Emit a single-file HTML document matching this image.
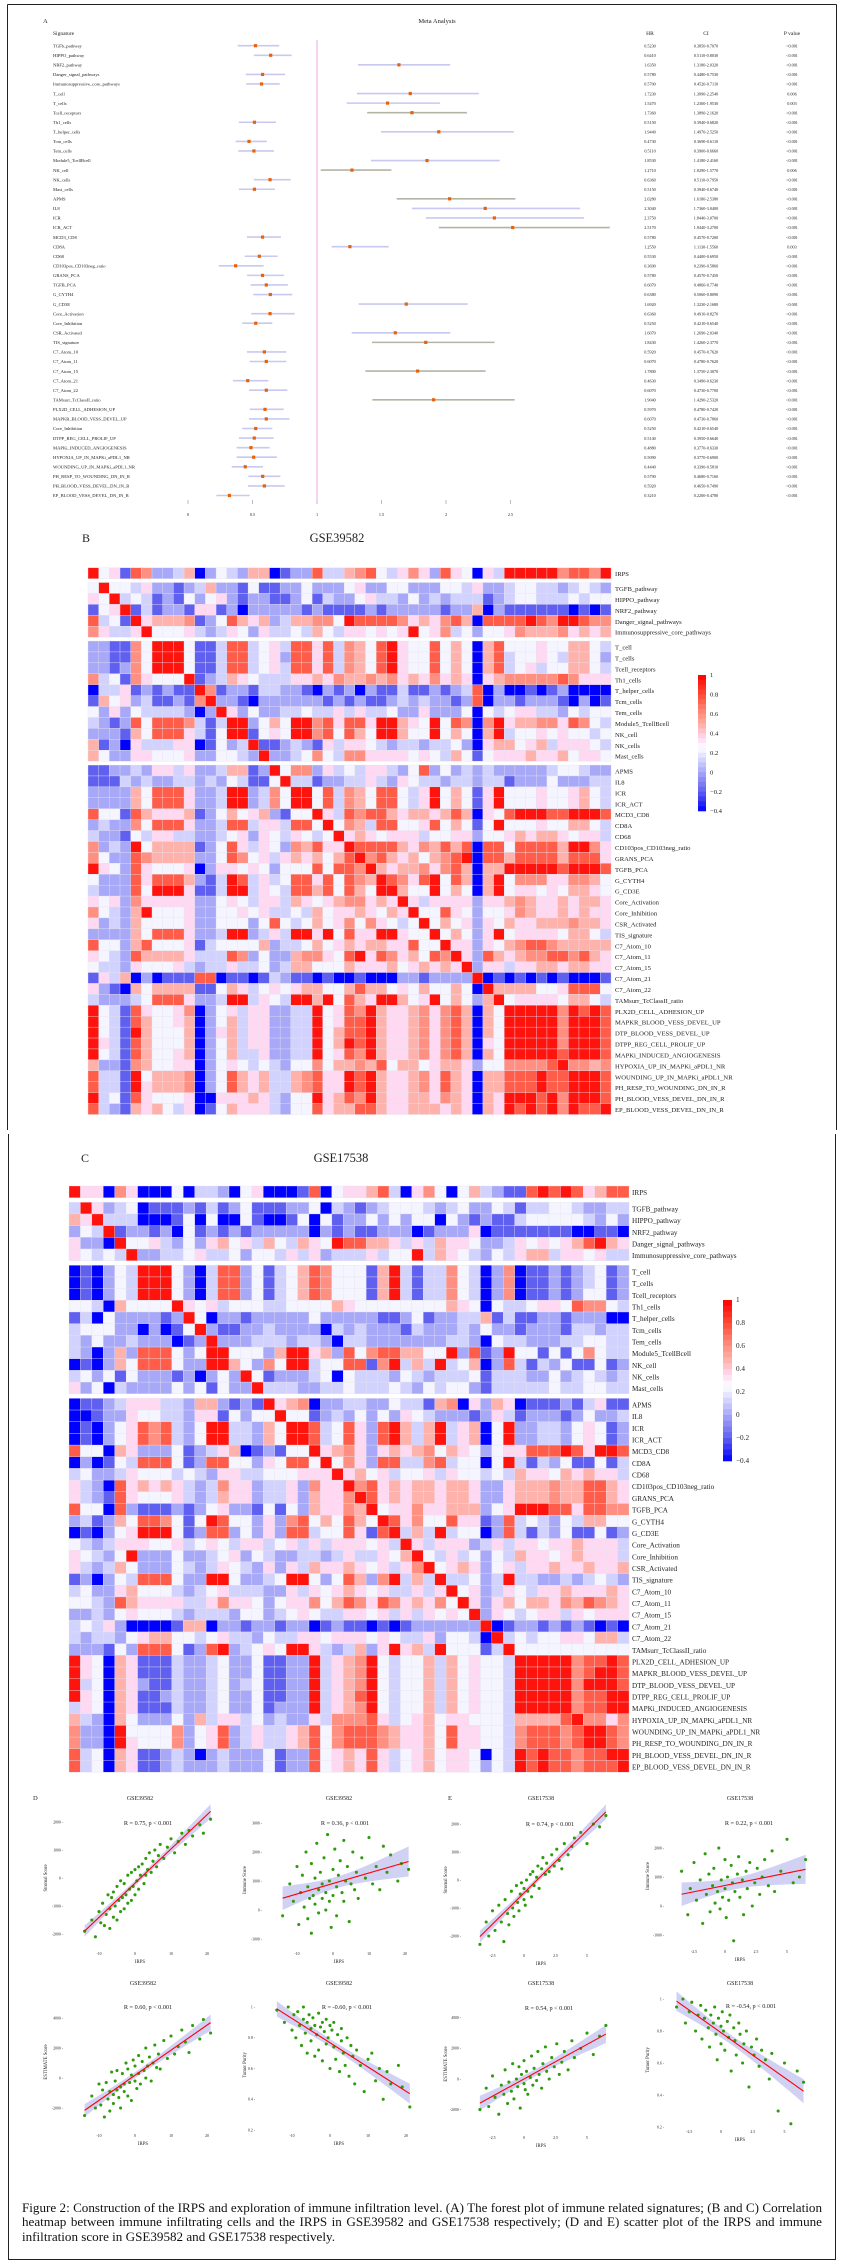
<!DOCTYPE html>
<html><head><meta charset="utf-8"><title>Figure 2</title>
<style>
html,body{margin:0;padding:0;background:#fff;}
#wrap{position:relative;width:841px;height:2261px;overflow:hidden;}
svg{position:absolute;left:0;top:0;}
svg text{font-family:"Liberation Serif",serif;fill:#222;}
#caption{position:absolute;left:22px;top:2201px;width:800px;font-family:"Liberation Serif",serif;font-size:13.1px;line-height:14.4px;text-align:justify;color:#111;}
</style></head>
<body>
<div id="wrap">
<svg id="fig" width="841" height="2261" viewBox="0 0 841 2261"></svg>
<div id="caption">Figure 2: Construction of the IRPS and exploration of immune infiltration level. (A) The forest plot of immune related signatures; (B and C) Correlation heatmap between immune infiltrating cells and the IRPS in GSE39582 and GSE17538 respectively; (D and E) scatter plot of the IRPS and immune infiltration score in GSE39582 and GSE17538 respectively.</div>
</div>
<script>
// ===== Forest plot data =====
const fSignatures = ["TGFb_pathway","HIPPO_pathway","NRF2_pathway","Danger_signal_pathways","Immunosuppressive_core_pathways","T_cell","T_cells","Tcell_receptors","Th1_cells","T_helper_cells","Tcm_cells","Tem_cells","Module5_TcellBcell","NK_cell","NK_cells","Mast_cells","APMS","IL8","ICR","ICR_ACT","MCD3_CD8","CD8A","CD68","CD103pos_CD103neg_ratio","GRANS_PCA","TGFB_PCA","G_CYTH4","G_CD3E","Core_Activation","Core_Inhibition","CSR_Activated","TIS_signature","C7_Atom_10","C7_Atom_11","C7_Atom_15","C7_Atom_21","C7_Atom_22","TAMsurr_TcClassII_ratio","PLX2D_CELL_ADHESION_UP","MAPKR_BLOOD_VESS_DEVEL_UP","Core_Inhibition","DTPP_REG_CELL_PROLIF_UP","MAPKi_INDUCED_ANGIOGENESIS","HYPOXIA_UP_IN_MAPKi_aPDL1_NR","WOUNDING_UP_IN_MAPKi_aPDL1_NR","PH_RESP_TO_WOUNDING_DN_IN_R","PH_BLOOD_VESS_DEVEL_DN_IN_R","EP_BLOOD_VESS_DEVEL_DN_IN_R"];
const fHR = [0.523,0.641,1.635,0.578,0.570,1.723,1.547,1.736,0.515,1.944,0.473,0.511,1.853,1.271,0.636,0.515,2.028,2.304,2.375,2.517,0.578,1.255,0.553,0.369,0.578,0.607,0.638,1.692,0.636,0.525,1.607,1.843,0.592,0.607,1.780,0.463,0.607,1.904,0.597,0.607,0.525,0.514,0.488,0.509,0.444,0.579,0.592,0.321];
const fLow = [0.385,0.511,1.318,0.448,0.452,1.309,1.230,1.389,0.394,1.497,0.369,0.390,1.418,1.029,0.511,0.394,1.618,1.736,1.844,1.944,0.457,1.113,0.440,0.239,0.457,0.486,0.506,1.323,0.491,0.421,1.269,1.426,0.457,0.478,1.375,0.349,0.473,1.429,0.478,0.473,0.421,0.395,0.377,0.377,0.339,0.468,0.465,0.220];
const fHigh = [0.707,0.803,2.032,0.753,0.711,2.254,1.953,2.162,0.682,2.525,0.611,0.666,2.416,1.577,0.795,0.674,2.538,3.040,3.070,3.270,0.720,1.556,0.695,0.586,0.745,0.774,0.809,2.168,0.827,0.654,2.034,2.377,0.762,0.762,2.307,0.623,0.770,2.532,0.742,0.786,0.654,0.664,0.633,0.690,0.581,0.716,0.749,0.478];
const fP = ["<0.001","<0.001","<0.001","<0.001","<0.001","0.006","0.003","<0.001","<0.001","<0.001","<0.001","<0.001","<0.001","0.006","<0.001","<0.001","<0.001","<0.001","<0.001","<0.001","<0.001","0.003","<0.001","<0.001","<0.001","<0.001","<0.001","<0.001","<0.001","<0.001","<0.001","<0.001","<0.001","<0.001","<0.001","<0.001","<0.001","<0.001","<0.001","<0.001","<0.001","<0.001","<0.001","<0.001","<0.001","<0.001","<0.001","<0.001"];
const fTicks = [0,0.5,1,1.5,2,2.5];
const fTickLabels = ["0","0.5","1","1.5","2","2.5"];

// ===== Heatmap data (letter-coded correlations) =====
const heatCodes = {R:0.95,r:0.75,o:0.6,p:0.48,q:0.35,w:0.22,l:0.12,m:0,b:-0.2,B:-0.4};
const heatLabels = ["IRPS","TGFB_pathway","HIPPO_pathway","NRF2_pathway","Danger_signal_pathways","Immunosuppressive_core_pathways","T_cell","T_cells","Tcell_receptors","Th1_cells","T_helper_cells","Tcm_cells","Tem_cells","Module5_TcellBcell","NK_cell","NK_cells","Mast_cells","APMS","IL8","ICR","ICR_ACT","MCD3_CD8","CD8A","CD68","CD103pos_CD103neg_ratio","GRANS_PCA","TGFB_PCA","G_CYTH4","G_CD3E","Core_Activation","Core_Inhibition","CSR_Activated","TIS_signature","C7_Atom_10","C7_Atom_11","C7_Atom_15","C7_Atom_21","C7_Atom_22","TAMsurr_TcClassII_ratio","PLX2D_CELL_ADHESION_UP","MAPKR_BLOOD_VESS_DEVEL_UP","DTP_BLOOD_VESS_DEVEL_UP","DTPP_REG_CELL_PROLIF_UP","MAPKi_INDUCED_ANGIOGENESIS","HYPOXIA_UP_IN_MAPKi_aPDL1_NR","WOUNDING_UP_IN_MAPKi_aPDL1_NR","PH_RESP_TO_WOUNDING_DN_IN_R","PH_BLOOD_VESS_DEVEL_DN_IN_R","EP_BLOOD_VESS_DEVEL_DN_IN_R"];
const heatB = [
"RwqbrommlpBmwlmppBbmmrllporwlqoqmrqwBqlRRRRRorroR",
"wRwwlqmmbmlpmmbwbbmmwmmmwqmmwwmmmwwlqmmlwwllmlwlm",
"qwRlwlbmbwmwqmbmmbbmwblmmwqllmwmlmlllbmlwwlllwlww",
"bwqRblbmmbqqbmBmmmmmbmbbbbmbmmmmmbmmpBmbbbbbbBbBb",
"rlwbRqpppobmwrpqpmlppoowRrrrroqpqorpBrrrrRroRRroo",
"oqllqRwwwqlmlqwmqllwlpwlqqwqwqRwqolwmwwqopppoqpqp",
"mmbbowRRRwbblrrlwqlrrqrlopwrRqwwrwpwBprwwwqwwppwl",
"mmbbowRRRwbblrrlwqmrrqrlopwrRqwwrwpwBprlwwqwlppwm",
"mmbmowRRRwbblrrlwqlrrqrlopwrRqwwrwpwBprlwqlwwppwl",
"olwboqwwwRbmlpqwlllqqpqoppopoqpqoqpqBqpoooooroqqq",
"BllqbmbmbbRobmmbllmmbBmbmBmbblbbmbmlrBmBBbBbmBBBB",
"bpwqmlbbmboRmmbBmmmmmmbmbmbbmlmlmmbmrBmmbmmmbBmBb",
"wmqmwllllmBmRqmwmmllwllqlqllwmmqmmmwBwlwqqllmwlww",
"lmbmrwrrrolblRRmwpwRRorqrrqRRpqwRwroBoRqppooqrowl",
"mmmbpwrrrqlbwRRbwqwRRorwrpwRRpwwRwpwBpRlwwqwqwwlw",
"pbmBqlllqqBbwmlRbbmlmbqlqqwlmllmllwmBqppwqplqqqwl",
"pwmmqqwwwqmmwwlmRmmlwowlooqqqqwqwlpwbwqqqpqqpwqqw",
"bbmmlmqqlqmmlppbmRwoomqlwlqqlmwrmwmlmlmmmmmlwwlmm",
"bbblmlmmllmlmwlbbwRllbmmllqlmqwllmllmllbmmmwmmmll",
"mmmmpwrrrqmmlRRmlowRRwrlopwrrwlqRwpwbqRwwwqwwqpwl",
"mmmmpwrrrqmmlRRmlowRRwrlopwrrwlqRwpwbqRwwwqwwqpwl",
"rwwbrpqqqpbmwpwqpmbwwRqlrorrpqppqprpBqwrRRRrrRRRr",
"mlmmowrrrqmmlrrlqqlrrwRwoplrrwwqrwpwbwRwwwqwwppwl",
"lmmbwlqqllmmlwqmqwlqwlwRqpqwqqqlwwqqmwwqpqppqwqql",
"omlmRwppppbmwrqlqwmoprqqRrrrrpqoprprBrrwrrrrpRRoq",
"owmmroppppmmwrowqlqpqpwprRorpqpwporRBrrprrrrprrrq",
"RqwmrqwwwqBmqqwqwmwwwrwrroRpqppoqorpBppRRRRRrRRRr",
"wmmmrqrrrpmblRrlqlwrrqrwropRroqrRwrpBpRwoooqqoopw",
"lmmmrwRRRqbblRRlqwlrrprwrpwRRpwwRwpwBpRwqqwqwppqw",
"qwqmoqqqqqmmwqwlqqlpqwqpooqpqRqlqqqqmqqpopqqpqppq",
"owlmpRwwwqmmwwqwqllwlpwqqpqwpqRwwrqwmwwqopqqpqpqq",
"qmlmpwwwwqmmwwwmwrwlwpwqowoqwlwRwpwqmqwpqqpppoppq",
"mmmmpwrrrqmmlRRmlqlRRqRwrqqRRqwwRwpwmqRwqqqqwppwl",
"rwwmprwwwqblwwwwpmllwpwqpqppqqrwwRqqmqwporroppppp",
"qwlmrppppqlllromwmmpooqwrRqroqpwroRqmrpqpoorrorpq",
"wllmqwwwqlmllqllwmlppwwwpqqqpwqpqpqRmqqlqqppqppqq",
"bqlpBmBbbbrrBbbBblmbbBbBBbBBBmmbmmmmRBbBbBbBbBBBb",
"qmbBpwppppbbwpqlwqwqppwwprppwqwpwwpwBRppppwwqrrrw",
"lmmmlwrrrqmmlRRlqwlRRpRwrpqRRpwqRwpwmpRwqqqqwppwl",
"RwlbrqwwqoBmwqlqqmmllRwqroRpqqpoqorpBpwRRRRRoRrRr",
"RwlbrpwwqpBmwplqqmmllRwqrrRpqqpoqorpBpwRRRRRoRRRr",
"RwlbRpwwwpBmqplqqmmllRwprrRpqqpoqorpBpwRRRRRoRRRr",
"RqlbrpwwwpBmwplqqmmllRwpRrRpqqpoqorpBqwRRRRRoRRRr",
"RwlbrpwwqpBmwpllqmmllRwqroRpqqpoqorpBpwRRRRRrRRRr",
"pmmbopwwqqBmwqwlwlmwwowppoprwppwqppqmwwoooorRoopo",
"rllbRwpppoBmwrpqpllporqqRrRpqqpoqrpqBpprrrRrrRRRr",
"rllbRqpppoBmwrpqpllporqqRrRpqqpoqrpqBpprrrRrrRRRr",
"RlwbrqwwwqBBqqqpqlmwwRqproRpqqppqopqBpqRRRrRoRRRr",
"rlmbpqpwlqBbwpqqqlmwwrqpprrpqqpppqpqBpqRrRrRoRrrR"];
const heatC = [
"RqqBoqBBBwBllmBwqBBBbrBwqqprlBqowBwplmbbrRrRrqprr",
"lRqmlwBbbbmblbmwbbbmmwBlmbmlwwwlmlwmmwlbllwwlmmll",
"pqRlllBBBbwBwBBwbBBbwBwbmmwmwmwwBwmbmbblwwwwwlmwm",
"mwlRbmmbmBwbmbmbmmmmmBmbmbbmmmBbmmmqBbbbbbbbBBbbB",
"qmmBRwwqlmwmqpwqlpwlpqwRrrppqlqlpqqwmmlqwqwqprRpq",
"qwlwlRmmllwqllwmwwlqlqmlllqlwwRlpqwlmwlqpplqqwqll",
"BbBmwlRRRwmBlrrmwblwprowwwbpRlbllowlBmoBbbmbmlwbm",
"BbBmwlRRRwmBlrrmwblwprowwwbpRlbllowlBmoBbbmbmlwbm",
"BbBmwlRRRwmBlrrmwblwprowwwbpRlbllowlBmoBbbmbmwwbm",
"wwlBpwwwwRqwqlwwwllwwwwpqwwwwwwwwpqwBwllwqqwroowl",
"blBwmmmmbmRwBmmbmmmmmwmmmmmbbmwbmmllpblbbmmbmmmBB",
"lwwwmmBmBbwRmbbmmlmmmmBlmlmmmblmmmlmwmmbmmmbllmll",
"lmwmmlmmmBbmRmmmlllmllmBllmmmmmmmllmBwllmmmllwwll",
"lmBmpmrrrwmwRRwwwmpRRqpmrworrppwwRmrbmRwwbwbwowll",
"BbBmpwrrrwmmRRpwmowRRlwwrrboRlplRlwpBmrlblmwbbwbm",
"lwmwbwmmmbmBmwmRwbmmmlwBwlllmwlmlllwblllmmwmlwlml",
"qmwBlmmmmwmwbwmmRlllmmllwlllwlmwlwwmblllllwllwwll",
"BbbmlqqqllmppmbmbRqpoBmmllmmwllbpoBqmpqBbbbmblqbb",
"BBbmmqwwllmqqbwmwwRwwbmlmwmwmqwlmmmbmqlbmmmbmwmml",
"BbBmwqrorlmwRRllmpwRRrlwrqmrRplpRlqpBwRmmllmwqwbm",
"BbBmwqrorlmwRRllmpwRRrlwrqmrRplpRlqpBwRmmllmwqwbm",
"rwwBpqmmmwbmlqpBbmbwwRqpoqmqpqpowpqwmwqqrrrRrqRRr",
"BmBbwlrrrwbmrrwwmqwrrwRwoqmrrllorlwwBwRlblmwbbwbl",
"lwmmlqwwwlwlmqqllwwwqqqRqpwqlwwqlqwwlwlpqqwpqpqql",
"qlmBrqpqpqlmloqqmllqmoqqRorqpqppqppqmmqpppopprrpq",
"qlmbrqwwwqlmlpqqmllqmpqqoRrqpqppqppqmmqpppopprrpq",
"rwwBrmbbbmbmwqmmbwbwmpqqopRwqqoqqpppmwqRRRrrqrroo",
"mlbmpwrrowbwRrwwmqmorwpwrpwRrqowwrqqbmrlwlmwlppww",
"BbBmwqRRRwbmrrmwmqmrrlwwrqbrRlplRlwwBmrlblmwbbwbm",
"wlmlqqqwwqlwqwlqqlwqlqlqqqwqlRqlqqqmlqlqqwqqpqqql",
"qwlmwRmmmwmmlwqmwlmmllmlqllqwpRwlqlwmwlpqqwqpqqql",
"qlmlpwmmmwlmlqwlmqmqlpqqpqwqlqoRwqpqmwqlqqpqqpqqp",
"bmBmwlrrrwmmRRwmmlwRRwmwrpmoRlplRllwmlRllmmlmlwlm",
"lwmmqpwwwlmlwqlllmmqlqwqpqwqllqlqRwqmlqwlqqpqqqpq",
"wwlmrpqqqqllqoqqwmwqqowproqroqpqowRqmqpwppqopropq",
"mmlmwqwwwlmlllmwwmlwqwllqqwqlqlqwqwRmqwlwqqlqwqqq",
"lwlqmBBBBbppBmmbmmbmmBbmbbBbBbmmmmmmRBbmmbmbmbBbB",
"lmllmwqppwwlwqllmwllqqwqqqwqwllqmwwlBRlwlwwqqwppl",
"mmmbwmrrrwbmrRmlwqwRRqlmlpmqRqplRwwwblRwwwwwwwwww",
"RqwBpqbbblmmlwmmwbbmmRlqpoRwlwwplpwqwwlRRRRRorrRr",
"RqwBpqbbblmmlwmmwbbmmRlqpoRwlwwplpwqwwlRRRRRorRRr",
"RlwBpqmbblmmlwmlwbbmmRlqpoRwlwwplpwqwwlRRRRRoRRRr",
"RqwBpqbbmlmmlwmmwbbmmRlqprRwlwwplpwqwwlRRRRRorrRR",
"lqwBpqbbblmmlwmmwbmmmRlqpoRwlwwplpwqwwlRRRRRorrRR",
"plmBpwmmmwmplqqlwmlmmqlooorqlwqpwqqwwwlpppprRooqo",
"ommBRwwwwomwqrmlqllqprworrropqqpwrqqwwlorrrorRRro",
"ommBRqwwwomwqrmlqllqprworrropqqpwrqqwwlorrrorRRro",
"rlwBpqbbmlmBmlmmmwbmmrwqpqrqlwqpwqqwBwlRrRrrorrRR",
"rlwBpqbbmlmmmlmmmwbmmrwqpqrqlwqpwqqwmwlRrRrrorrrR"];
const cbTicks = [1,0.8,0.6,0.4,0.2,0,-0.2,-0.4];

// ===== Scatter data =====
const irps39 = [-14,-12,-11,-10,-9.5,-9,-8.5,-8,-7.5,-7,-7,-6.5,-6,-6,-5.5,-5,-5,-4.5,-4,-4,-3.5,-3,-3,-2.5,-2,-2,-1.5,-1,-1,-0.5,0,0,0.5,1,1,1.5,2,2.5,3,3,3.5,4,4.5,5,5.5,6,6.5,7,8,9,10,11,12,13,14,15,16,18,19,21];
const stromal39 = [-1900,-1500,-2100,-1200,-1600,-900,-1700,-1300,-600,-1100,-1800,-700,-1400,-500,-1000,-1500,-300,-800,-1200,-100,-700,-1100,-200,-600,-900,100,-400,-800,200,-300,-600,300,-100,400,-400,100,500,-200,700,100,300,900,200,600,1000,400,800,1200,700,1100,1400,900,1300,1600,1200,1700,1500,1900,1600,2100];
const immune39 = [-200,900,300,1500,-500,600,1200,100,2000,-300,800,400,1600,-800,500,1100,200,2300,700,-100,1300,400,900,1800,0,600,2600,300,1000,-600,1400,500,2100,800,-200,1200,1700,600,2400,300,1000,1500,-400,900,2000,700,1300,400,1800,1100,2500,900,1500,700,2200,1300,1900,1000,1600,1400];
const estimate39 = [-2500,-1200,-2000,-400,-1800,-800,-2600,-300,-1400,-900,-2200,400,-1100,-1700,-200,-800,500,-1300,-600,-2000,300,-900,-400,1000,-1200,600,-300,200,-1500,1200,-200,800,-700,1500,300,-400,1100,500,2000,0,800,1400,-200,1000,2200,700,1600,600,2500,1300,2800,1600,2100,3200,2400,1700,3500,2600,3900,3000];
const purity39 = [0.98,0.9,1.0,0.85,0.95,0.8,0.97,0.88,0.75,0.92,1.0,0.83,0.9,0.7,0.95,0.86,0.78,0.93,0.68,0.88,0.82,0.96,0.72,0.87,0.9,0.65,0.84,0.92,0.76,0.8,0.88,0.6,0.85,0.74,0.9,0.66,0.82,0.58,0.78,0.86,0.7,0.62,0.8,0.55,0.75,0.68,0.5,0.72,0.62,0.45,0.66,0.7,0.52,0.6,0.4,0.58,0.5,0.62,0.48,0.35];
const irps17 = [-3.5,-3,-2.8,-2.5,-2.3,-2,-1.8,-1.6,-1.5,-1.3,-1.2,-1,-0.9,-0.8,-0.6,-0.5,-0.4,-0.3,-0.2,0,0,0.1,0.2,0.3,0.5,0.6,0.7,0.8,1,1.1,1.2,1.4,1.5,1.7,1.8,2,2.2,2.4,2.6,2.8,3,3.2,3.5,3.8,4,4.5,5,5.5,6,6.5];
const stromal17 = [-2300,-1500,-2000,-1100,-1800,-900,-1500,-2200,-700,-1200,-1600,-400,-1000,-1300,-200,-800,-1100,-500,-100,-700,-300,-900,0,-400,200,-600,300,-200,100,500,-300,400,800,200,600,300,900,500,1100,700,400,1300,900,1200,1500,1700,1300,2000,1900,2300];
const immune17 = [1200,-300,600,1500,200,900,-600,1800,400,1100,-200,700,1300,100,500,2000,-100,900,300,1600,600,-400,1000,200,1400,800,-1200,500,1100,1700,300,900,-300,1200,600,1500,0,800,1300,400,1000,1600,700,1900,500,1200,2300,800,1000,1600];
const estimate17 = [-2000,-600,-1800,200,-1200,-2300,-400,-1000,600,-1600,-200,-800,1000,-1300,0,-500,800,-1900,300,-300,1200,-700,500,-1000,100,1500,-400,700,-100,1800,300,-600,1000,2100,500,0,1400,800,2300,300,1100,1800,600,2500,1400,2000,3000,1600,2800,3500];
const purity17 = [0.95,1.0,0.85,0.92,0.98,0.8,0.9,0.96,0.75,0.88,0.93,0.82,0.7,0.9,0.85,0.95,0.78,0.62,0.88,0.83,0.72,0.92,0.8,0.68,0.86,0.76,0.9,0.55,0.82,0.74,0.65,0.85,0.78,0.6,0.72,0.8,0.45,0.7,0.65,0.75,0.58,0.68,0.62,0.5,0.66,0.3,0.6,0.22,0.55,0.48];
const rLabels = ["R = 0.75, p < 0.001","R = 0.36, p < 0.001","R = 0.74, p < 0.001","R = 0.22, p < 0.001","R = 0.60, p < 0.001","R = -0.60, p < 0.001","R = 0.54, p < 0.001","R = -0.54, p < 0.001"];

const NS = "http://www.w3.org/2000/svg";
const svg = document.getElementById('fig');
function mk(tag, attrs, parent){
  const el = document.createElementNS(NS, tag);
  for (const k in attrs) el.setAttribute(k, attrs[k]);
  (parent || svg).appendChild(el);
  return el;
}
function txt(x, y, s, size, anchor, parent){
  const t = mk('text', {x:x, y:y, 'font-size':size, 'text-anchor':anchor||'start'}, parent);
  t.textContent = s;
  return t;
}

// ===== Frames =====
let el;
el = mk('path', {d:'M7.5 4.5 H836.5 M7.5 4.5 V1130 M836.5 4.5 V1130', stroke:'#222', fill:'none', 'stroke-width':1});


el = mk('path', {d:'M8.5 1134 V2259.5 H835.5 V1134', stroke:'#222', fill:'none', 'stroke-width':1});



// ===== Forest plot =====
const gF = mk('g', {});


const xF = v => 188 + v * 129;
const yF = i => 45.7 + i * 9.57;
el = txt(43, 23, 'A', 6.5, 'start', gF);


el = txt(437, 23, 'Meta Analysis', 6.5, 'middle', gF);


el = txt(53, 35, 'Signature', 5.5, 'start', gF);


el = txt(650, 35, 'HR', 5.5, 'middle', gF);


el = txt(706, 35, 'CI', 5.5, 'middle', gF);


el = txt(792, 35, 'P value', 5.5, 'middle', gF);


el = mk('line', {x1:xF(1), x2:xF(1), y1:40, y2:500, stroke:'#f4c8f4', 'stroke-width':1.6}, gF);


fSignatures.forEach((s, i) => {
  const y = yF(i);
  let t = txt(53, y + 1.7, s, 4.6, 'start', gF);
  
  
  const hi = Math.min(fHigh[i], 3.3);
  const ln = mk('line', {x1:xF(fLow[i]), x2:xF(hi), y1:y, y2:y, stroke:(fHR[i] > 1 && i % 3 === 1) ? '#b4b4a4' : '#c8c8f0', 'stroke-width':1.6}, gF);
  
  
  const pt = mk('rect', {x:xF(fHR[i]) - 1.6, y:y - 1.6, width:3.2, height:3.2, fill:'#e8620c'}, gF);
  
  
  t = txt(650, y + 1.7, fHR[i].toFixed(4), 4.2, 'middle', gF);
  
  
  t = txt(706, y + 1.7, fLow[i].toFixed(4) + '-' + fHigh[i].toFixed(4), 4.2, 'middle', gF);
  
  
  t = txt(792, y + 1.7, fP[i], 4.2, 'middle', gF);
  
  
});
fTicks.forEach((v, i) => {
  const tk = mk('line', {x1:xF(v), x2:xF(v), y1:500, y2:504, stroke:'#aaa', 'stroke-width':0.8}, gF);
  
  
  const t = txt(xF(v), 516, fTickLabels[i], 4.2, 'middle', gF);
  
  
});

// ===== Heatmaps =====
const stops = [[-0.4,[0,0,255]],[-0.2,[96,96,240]],[0,[168,168,248]],[0.15,[220,220,255]],[0.25,[255,255,255]],[0.35,[255,216,242]],[0.5,[255,172,160]],[0.65,[255,128,112]],[0.8,[255,74,53]],[1,[255,0,0]]];
function heatColor(v){
  if (v <= stops[0][0]) return 'rgb(' + stops[0][1].join(',') + ')';
  for (let i = 1; i < stops.length; i++) {
    if (v <= stops[i][0]) {
      const a = stops[i-1], b = stops[i], f = (v - a[0]) / (b[0] - a[0]);
      const c = a[1].map((x, k) => Math.round(x + (b[1][k] - x) * f));
      return 'rgb(' + c.join(',') + ')';
    }
  }
  return 'rgb(255,0,0)';
}
function drawHeat(rows, cfg, name){
  const g = mk('g', {});
  
  
  const n = heatLabels.length;
  const cw = cfg.w / n;
  const gapsBefore = i => (i >= 1 ? 1 : 0) + (i >= 6 ? 1 : 0) + (i >= 17 ? 1 : 0);
  const rowY = i => cfg.top + i * cfg.h + gapsBefore(i) * cfg.g;
  rows.forEach((str, r) => {
    for (let c = 0; c < n; c++) {
      const v = heatCodes[str[c]] !== undefined ? heatCodes[str[c]] : 0.22;
      const cell = mk('rect', {x:cfg.x0 + c * cw, y:rowY(r), width:cw + 0.05, height:cfg.h + 0.05, fill:heatColor(v), stroke:'#e6e2ee', 'stroke-width':0.35}, g);
      
      
    }
    const t = txt(cfg.labelX, rowY(r) + cfg.h * 0.78, heatLabels[r], cfg.fs, 'start', g);
    
    
  });
  const cb = cfg.cb;
  const steps = 28;
  for (let k = 0; k < steps; k++) {
    const v = 1 - (1.4 * (k + 0.5) / steps);
    const seg = mk('rect', {x:cb.x, y:cb.y0 + (cb.y1 - cb.y0) * k / steps, width:cb.w, height:(cb.y1 - cb.y0) / steps + 0.3, fill:heatColor(v)}, g);
    
    
  }
  cbTicks.forEach(v => {
    const y = cb.y0 + (1 - v) / 1.4 * (cb.y1 - cb.y0);
    const t = txt(cb.x + cb.w + 4, y + 2.2, v === 0 ? '0' : (v < 0 ? '\u2212' + Math.abs(v) : String(v)), cfg.fs, 'start', g);
    
    
  });
}
el = txt(82, 542, 'B', 12, 'start');


el = txt(337, 542, 'GSE39582', 12.5, 'middle');


drawHeat(heatB, {x0:88, w:523, top:567.7, h:10.92, g:3.9, labelX:615, fs:6.6, cb:{x:698, w:8, y0:675, y1:811}}, 'heatmap-gse39582');
el = txt(81, 1162, 'C', 12, 'start');


el = txt(341, 1162, 'GSE17538', 12.5, 'middle');


drawHeat(heatC, {x0:69, w:560, top:1186, h:11.68, g:4.6, labelX:632, fs:7.2, cb:{x:723, w:9, y0:1300, y1:1461}}, 'heatmap-gse17538');

// ===== Scatter plots =====
function drawScatter(cfg, xs, ys, name){
  const g = mk('g', {});
  
  
  const X = cfg.X, Y = cfg.Y;
  const n = xs.length;
  const mx = xs.reduce((a, b) => a + b, 0) / n, my = ys.reduce((a, b) => a + b, 0) / n;
  let sxx = 0, sxy = 0;
  for (let i = 0; i < n; i++) { sxx += (xs[i] - mx) ** 2; sxy += (xs[i] - mx) * (ys[i] - my); }
  const slope = sxy / sxx, icpt = my - slope * mx;
  let sse = 0;
  for (let i = 0; i < n; i++) sse += (ys[i] - icpt - slope * xs[i]) ** 2;
  const s = Math.sqrt(sse / (n - 2));
  const xmin = Math.min(...xs), xmax = Math.max(...xs);
  const up = [], dn = [];
  for (let k = 0; k <= 20; k++) {
    const x = xmin + (xmax - xmin) * k / 20;
    const se = 1.96 * s * Math.sqrt(1 / n + (x - mx) ** 2 / sxx);
    const yh = icpt + slope * x;
    up.push(X(x).toFixed(1) + ',' + Y(yh + se).toFixed(1));
    dn.unshift(X(x).toFixed(1) + ',' + Y(yh - se).toFixed(1));
  }
  el = mk('polygon', {points:up.concat(dn).join(' '), fill:'#c9c9f2', opacity:0.85}, g);
  
  
  xs.forEach((x, i) => {
    const c = mk('circle', {cx:X(x), cy:Y(ys[i]), r:1.55, fill:'#2f9a0c'}, g);
    
    
  });
  el = mk('line', {x1:X(xmin), y1:Y(icpt + slope * xmin), x2:X(xmax), y2:Y(icpt + slope * xmax), stroke:'#ff0000', 'stroke-width':1.1}, g);
  
  
  cfg.yt.forEach(v => {
    const t = txt(cfg.ylx, Y(v) + 1.3, String(v) + ' -', 3.8, 'end', g);
    
    
  });
  cfg.xt.forEach(v => {
    const t = txt(X(v), cfg.xly, String(v), 3.8, 'middle', g);
    
    
  });
  let t = txt(cfg.tx, cfg.ty, cfg.title, 6, 'middle', g);
  
  
  t = txt(cfg.rx, cfg.ry, cfg.r, 6.2, 'middle', g);
  
  
  t = txt(cfg.tx, cfg.xly + 8, 'IRPS', 4.8, 'middle', g);
  
  
  t = mk('text', {x:0, y:0, 'font-size':4.8, 'text-anchor':'middle', transform:'translate(' + cfg.yax + ',' + cfg.yay + ') rotate(-90)'}, g);
  t.textContent = cfg.ytitle;
  
  
}
el = txt(33, 1800, 'D', 6.5, 'start');


el = txt(448, 1800, 'E', 6.5, 'start');


drawScatter({X:v => 135 + 3.6 * v, Y:v => 1878 - 0.028 * v, yt:[-2000,-1000,0,1000,2000], xt:[-10,0,10,20], ylx:63, xly:1955, tx:140, ty:1800, rx:148, ry:1825, r:rLabels[0], yax:47, yay:1878, ytitle:'Stromal Score', title:'GSE39582'}, irps39, stromal39, 'scatter-gse39582-stromal');
drawScatter({X:v => 333 + 3.6 * v, Y:v => 1910 - 0.029 * v, yt:[-1000,0,1000,2000,3000], xt:[-10,0,10,20], ylx:262, xly:1955, tx:339, ty:1800, rx:345, ry:1825, r:rLabels[1], yax:246, yay:1880, ytitle:'Immune Score', title:'GSE39582'}, irps39, immune39, 'scatter-gse39582-immune');
drawScatter({X:v => 524 + 12.6 * v, Y:v => 1880 - 0.028 * v, yt:[-2000,-1000,0,1000,2000], xt:[-2.5,0,2.5,5], ylx:461, xly:1957, tx:541, ty:1800, rx:550, ry:1826, r:rLabels[2], yax:447, yay:1880, ytitle:'Stromal Score', title:'GSE17538'}, irps17, stromal17, 'scatter-gse17538-stromal');
drawScatter({X:v => 725 + 12.4 * v, Y:v => 1906 - 0.029 * v, yt:[-1000,0,1000,2000], xt:[-2.5,0,2.5,5], ylx:664, xly:1953, tx:740, ty:1800, rx:749, ry:1825, r:rLabels[3], yax:649, yay:1876, ytitle:'Immune Score', title:'GSE17538'}, irps17, immune17, 'scatter-gse17538-immune');
drawScatter({X:v => 135 + 3.6 * v, Y:v => 2078 - 0.015 * v, yt:[-2000,0,2000,4000], xt:[-10,0,10,20], ylx:63, xly:2137, tx:143, ty:1985, rx:148, ry:2009, r:rLabels[4], yax:47, yay:2062, ytitle:'ESTIMATE Score', title:'GSE39582'}, irps39, estimate39, 'scatter-gse39582-estimate');
drawScatter({X:v => 330 + 3.8 * v, Y:v => 2130 - (v - 0.2) * 153.75, yt:[0.2,0.4,0.6,0.8,1.0], xt:[-10,0,10,20], ylx:255, xly:2137, tx:339, ty:1985, rx:347, ry:2009, r:rLabels[5], yax:246, yay:2065, ytitle:'Tumor Purity', title:'GSE39582'}, irps39, purity39, 'scatter-gse39582-purity');
drawScatter({X:v => 524 + 12.6 * v, Y:v => 2079 - 0.0153 * v, yt:[-2000,0,2000,4000], xt:[-2.5,0,2.5,5], ylx:461, xly:2139, tx:541, ty:1985, rx:549, ry:2010, r:rLabels[6], yax:447, yay:2064, ytitle:'ESTIMATE Score', title:'GSE17538'}, irps17, estimate17, 'scatter-gse17538-estimate');
drawScatter({X:v => 721 + 12.7 * v, Y:v => 1999 + (1 - v) * 160, yt:[0.2,0.4,0.6,0.8,1.0], xt:[-2.5,0,2.5,5], ylx:664, xly:2133, tx:740, ty:1985, rx:751, ry:2008, r:rLabels[7], yax:649, yay:2060, ytitle:'Tumor Purity', title:'GSE17538'}, irps17, purity17, 'scatter-gse17538-purity');
</script>
</body></html>
